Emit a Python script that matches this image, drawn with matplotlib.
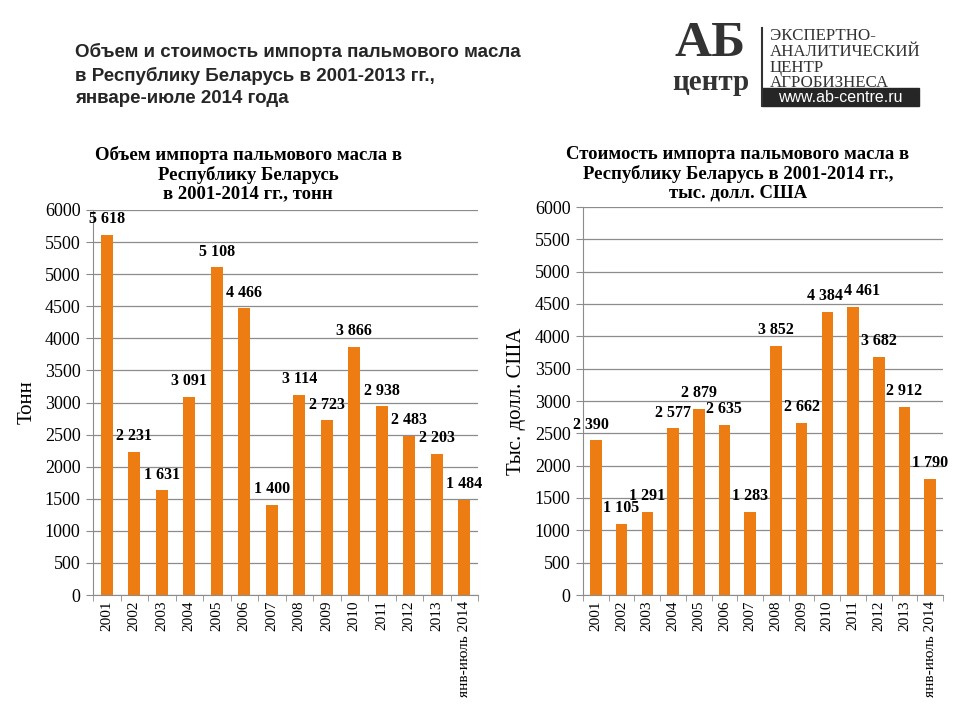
import numpy as np
import matplotlib
matplotlib.use('Agg')
import matplotlib.pyplot as plt
from matplotlib.patches import Rectangle

years = ['2001', '2002', '2003', '2004', '2005', '2006', '2007',
         '2008', '2009', '2010', '2011', '2012', '2013', 'янв-июль 2014']
volume = [5618, 2231, 1631, 3091, 5108, 4466, 1400,
          3114, 2723, 3866, 2938, 2483, 2203, 1484]
value = [2390, 1105, 1291, 2577, 2879, 2635, 1283,
         3852, 2662, 4384, 4461, 3682, 2912, 1790]

bar_color = '#ED7D12'
serif = 'Liberation Serif'
sans = 'Liberation Sans'

fig = plt.figure(figsize=(9.6, 7.2), dpi=100)
W, H = 960, 720


def box(x0, y0, x1, y1):
    # pixel box (top-left origin) -> figure fraction
    return [x0 / W, 1 - y1 / H, (x1 - x0) / W, (y1 - y0) / H]


def fmt(v):
    return '{:,}'.format(v).replace(',', ' ')


def draw(ax, data, ylabel, nudge):
    x = np.arange(len(data))
    ax.bar(x, data, width=0.45, color=bar_color, zorder=3)
    ax.set_xlim(-0.5, len(data) - 0.5)
    ax.set_ylim(0, 6000)
    ax.set_yticks(range(0, 6001, 500))
    ax.yaxis.grid(True, color='#8c8c8c', linewidth=0.9, zorder=0)
    ax.set_xticks(x)
    ax.set_xticklabels(years, rotation=90, fontsize=11, family=serif)
    ax.set_xticks(np.arange(-0.5, len(data)), minor=True)
    ax.tick_params(axis='x', which='major', length=0, pad=4)
    ax.tick_params(axis='x', which='minor', length=4, color='#8c8c8c')
    ax.tick_params(axis='y', length=5, color='#8c8c8c', labelsize=13, pad=4)
    for lbl in ax.get_yticklabels():
        lbl.set_family(serif)
    for s in ['top', 'right']:
        ax.spines[s].set_visible(False)
    for s in ['left', 'bottom']:
        ax.spines[s].set_color('#8c8c8c')
    ax.set_ylabel(ylabel, family=serif, fontsize=15, labelpad=6)
    for i, v in enumerate(data):
        ax.text(i + nudge.get(i, 0), v + 120, fmt(v), ha='center', va='bottom',
                family=serif, fontsize=11.5, fontweight='bold', zorder=4)


ax1 = fig.add_axes(box(93, 210, 478, 595))
draw(ax1, volume, 'Тонн', {})
ax2 = fig.add_axes(box(583, 207, 943, 595))
draw(ax2, value, 'Тыс. долл. США', {0: -0.2, 9: -0.1, 10: 0.35})

fig.text(248 / W, 1 - 174 / H,
         'Объем импорта пальмового масла в\nРеспублику Беларусь\nв 2001-2014 гг., тонн',
         ha='center', va='center', family=serif, fontsize=13.5,
         fontweight='bold', linespacing=1.13)
fig.text(738 / W, 1 - 174 / H,
         'Стоимость импорта пальмового масла в\nРеспублику Беларусь в 2001-2014 гг.,\nтыс. долл. США',
         ha='center', va='center', family=serif, fontsize=13.5,
         fontweight='bold', linespacing=1.13)

# main title
fig.text(75 / W, 1 - 43 / H,
         'Объем и стоимость импорта пальмового масла\nв Республику Беларусь в 2001-2013 гг.,\nянваре-июле 2014 года',
         ha='left', va='top', family=sans, fontsize=13.5, fontweight='bold',
         color='#262626', linespacing=1.4)

# logo
fig.text(710 / W, 1 - 44 / H, 'АБ', ha='center', va='center', family=serif,
         fontsize=37, fontweight='bold', color='#333333')
fig.text(711 / W, 1 - 82 / H, 'центр', ha='center', va='center', family=serif,
         fontsize=21, fontweight='bold', color='#333333')
fig.add_artist(plt.Line2D([762 / W, 762 / W], [1 - 28 / H, 1 - 106 / H],
                          color='#333333', linewidth=1.5))
fig.text(770 / W, 1 - 28 / H,
         'ЭКСПЕРТНО-\nАНАЛИТИЧЕСКИЙ\nЦЕНТР\nАГРОБИЗНЕСА',
         ha='left', va='top', family=serif, fontsize=12.2, color='#333333',
         linespacing=0.98)
fig.add_artist(Rectangle((762 / W, 1 - 106 / H), 157 / W, 18 / H,
                         transform=fig.transFigure, color='#262626'))
fig.text(840 / W, 1 - 97 / H, 'www.ab-centre.ru', ha='center', va='center',
         family=sans, fontsize=11.5, color='white')

fig.savefig('out.png', dpi=100)
